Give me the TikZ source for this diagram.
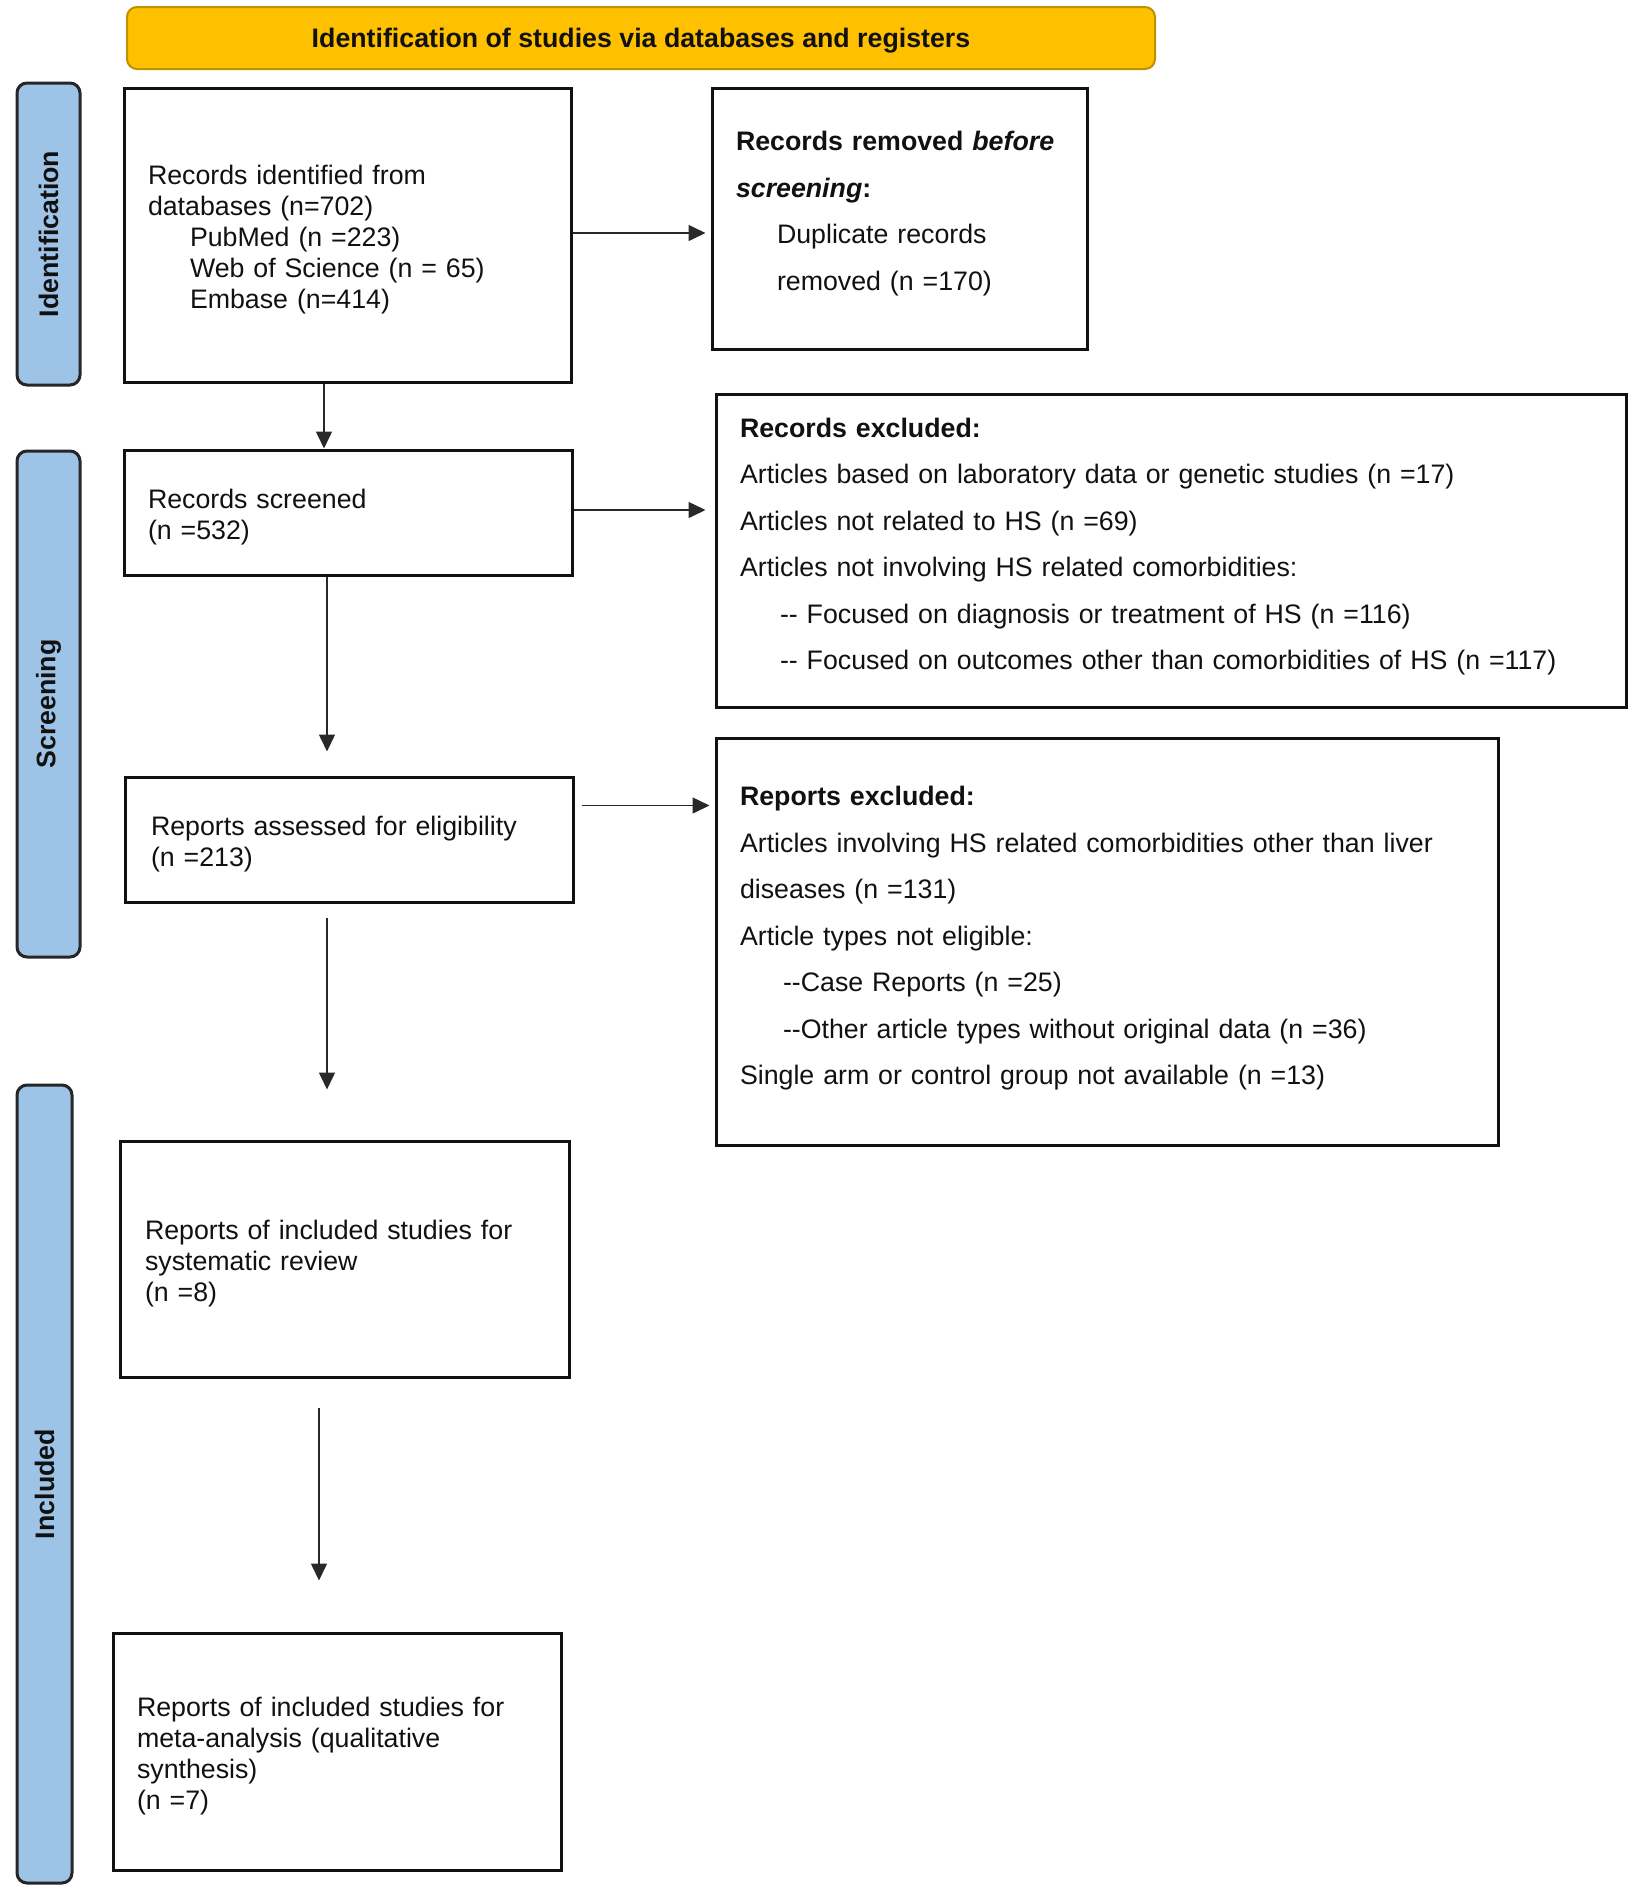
\documentclass[tikz,border=0pt]{standalone}
\usepackage{fontspec}
\setmainfont{Liberation Sans}
\usetikzlibrary{arrows.meta}
\definecolor{gold}{HTML}{FFC000}
\definecolor{goldb}{HTML}{BF9000}
\definecolor{sideblue}{HTML}{9DC3E6}
\definecolor{sideb}{HTML}{262626}
\definecolor{ink}{HTML}{111111}
\newcommand{\lowr}{\rule{0pt}{28.5pt}}
\tikzset{
  box/.style={draw=ink, line width=3pt, align=left, inner ysep=0pt, text=ink, anchor=center},
  tight/.style={font=\fontsize{26.75}{31}\selectfont},
  loose/.style={font=\fontsize{26.75}{46.5}\selectfont},
  sidebar/.style={draw=sideb, fill=sideblue, line width=3pt, rounded corners=10pt, rotate=90,
    font=\bfseries\fontsize{26.75}{31}\selectfont, text=ink, inner sep=0pt},
  arr/.style={draw=ink!90, line width=1.5pt, -{Triangle[length=17pt,width=16pt]}}
}
\begin{document}
\begin{tikzpicture}[x=1pt,y=-1pt]
\useasboundingbox (0,0) rectangle (1630,1891);
% header
\node[draw=goldb, fill=gold, line width=2pt, rounded corners=10pt, minimum width=1028pt, minimum height=62pt,
  font=\bfseries\fontsize{26.75}{31}\selectfont, text=ink] (hdr) at (641,38) {\rule{0pt}{25pt}Identification of studies via databases and registers};
% side bars
\node[sidebar, minimum width=302pt, minimum height=63pt] (sid) at (48.5,234) {Identification};
\node[sidebar, minimum width=506pt, minimum height=63pt] (ssc) at (48.5,704) {Screening};
\node[sidebar, minimum width=798pt, minimum height=55pt] (sin) at (44.5,1484) {Included};
% boxes
\node[box, tight, minimum width=447pt, minimum height=294pt, inner xsep=24pt, text width=399pt] (b1) at (347.5,235)
  {\lowr Records identified from\\databases (n=702)\\\hspace*{42pt}PubMed (n =223)\\\hspace*{42pt}Web of Science (n = 65)\\\hspace*{42pt}Embase (n=414)};
\node[box, loose, minimum width=375pt, minimum height=261pt, inner xsep=24pt, text width=327pt] (b2) at (899.5,218.5)
  {\textbf{Records removed \textit{before}}\\\textbf{\textit{screening}:}\\\hspace*{41pt}Duplicate records\\\hspace*{41pt}removed (n =170)\\[-31.5pt]\mbox{}};
\node[box, tight, minimum width=448pt, minimum height=125pt, inner xsep=24pt, text width=400pt] (b3) at (348,512.5)
  {\lowr Records screened\\(n =532)};
\node[box, loose, minimum width=910pt, minimum height=313pt, inner xsep=24pt, text width=862pt] (b4) at (1171,550.5)
  {\textbf{Records excluded:}\\Articles based on laboratory data or genetic studies (n =17)\\Articles not related to HS (n =69)\\Articles not involving HS related comorbidities:\\\hspace*{40pt}-{}- Focused on diagnosis or treatment of HS (n =116)\\\hspace*{40pt}-{}- Focused on outcomes other than comorbidities of HS (n =117)\\[-33pt]\mbox{}};
\node[box, tight, minimum width=448pt, minimum height=125pt, inner xsep=26pt, text width=396pt] (b5) at (349,839.5)
  {\lowr Reports assessed for eligibility\\(n =213)};
\node[box, loose, minimum width=782pt, minimum height=407pt, inner xsep=24pt, text width=734pt] (b6) at (1107,941.5)
  {\textbf{Reports excluded:}\\Articles involving HS related comorbidities other than liver\\diseases (n =131)\\Article types not eligible:\\\hspace*{43pt}-{}-Case Reports (n =25)\\\hspace*{43pt}-{}-Other article types without original data (n =36)\\Single arm or control group not available (n =13)\\[-34.5pt]\mbox{}};
\node[box, tight, minimum width=449pt, minimum height=236pt, inner xsep=25pt, text width=399pt] (b7) at (344.5,1259)
  {\lowr Reports of included studies for\\systematic review\\(n =8)};
\node[box, tight, minimum width=448pt, minimum height=237pt, inner xsep=24pt, text width=400pt] (b8) at (337,1751.5)
  {\lowr Reports of included studies for\\meta-analysis (qualitative\\synthesis)\\(n =7)};
% arrows
\draw[arr, shorten >=5pt] ([yshift=2pt]b1.east) -- ([yshift=2pt]b1.east -| b2.west);
\draw[arr] ([xshift=-23.5pt]b1.south) -- ([xshift=-23.5pt]b1.south |- b3.north);
\draw[arr, shorten >=9pt] ([yshift=2.5pt]b3.east) -- ([yshift=2.5pt]b3.east -| b4.west);
\draw[arr, shorten >=24pt] ([xshift=-21pt]b3.south) -- ([xshift=-21pt]b3.south |- b5.north);
\draw[arr, shorten <=7pt, shorten >=5pt] ([yshift=34pt]b5.east) -- ([yshift=34pt]b5.east -| b6.west);
\draw[arr, shorten <=14pt, shorten >=50pt] ([xshift=-22pt]b5.south) -- ([xshift=-22pt]b5.south |- b7.north);
\draw[arr, shorten <=29pt, shorten >=51pt] ([xshift=-25.5pt]b7.south) -- ([xshift=-25.5pt]b7.south |- b8.north);
\end{tikzpicture}
\end{document}
